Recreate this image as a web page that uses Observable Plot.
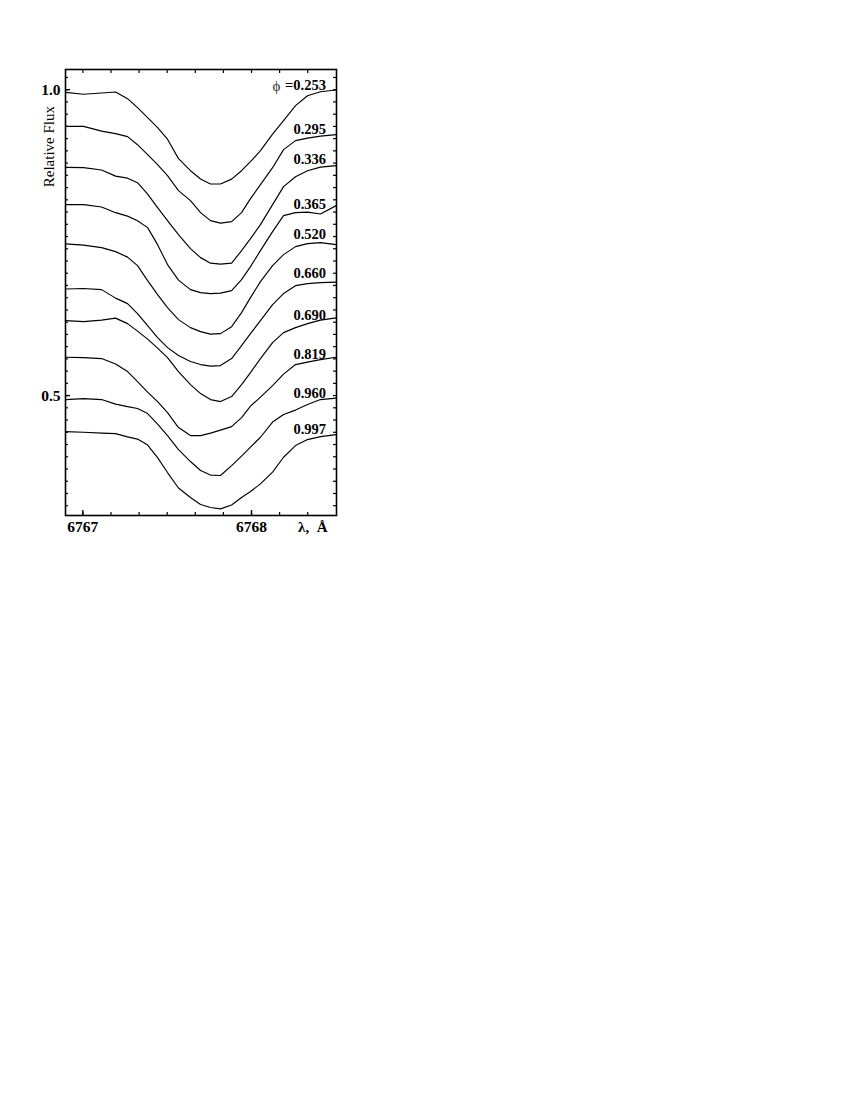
<!DOCTYPE html>
<html><head><meta charset="utf-8">
<script src="https://cdn.jsdelivr.net/npm/d3@7"></script>
<script src="https://cdn.jsdelivr.net/npm/@observablehq/plot@0.6"></script>
<style>body{margin:0;background:#fff}</style>
</head><body><div id="chart"></div>
<script>
// Wavelength grid (Å)
const wavelength = [6766.897, 6767.004, 6767.111, 6767.194, 6767.265, 6767.324, 6767.384, 6767.443, 6767.502, 6767.567, 6767.638, 6767.698, 6767.757, 6767.816, 6767.882, 6767.941, 6767.994, 6768.053, 6768.125, 6768.190, 6768.261, 6768.332, 6768.409, 6768.502];

// Phases (labels)
const phases = ["0.253", "0.295", "0.336", "0.365", "0.520", "0.660", "0.690", "0.819", "0.960", "0.997"];

// Relative flux of each spectrum (shifted)
const flux_0253 = [0.9956, 0.9926, 0.9946, 0.9962, 0.9853, 0.9706, 0.9542, 0.9379, 0.9191, 0.8873, 0.8676, 0.8541, 0.8459, 0.8459, 0.8538, 0.8676, 0.8824, 0.9003, 0.9273, 0.9493, 0.9739, 0.9902, 0.9967, 0.9995];
const flux_0295 = [0.9400, 0.9400, 0.9322, 0.9281, 0.9232, 0.9101, 0.8938, 0.8775, 0.8595, 0.8350, 0.8186, 0.7990, 0.7859, 0.7819, 0.7843, 0.7990, 0.8219, 0.8448, 0.8725, 0.9020, 0.9167, 0.9208, 0.9240, 0.9265];
const flux_0336 = [0.8730, 0.8725, 0.8688, 0.8587, 0.8554, 0.8480, 0.8292, 0.8072, 0.7859, 0.7631, 0.7402, 0.7255, 0.7165, 0.7149, 0.7165, 0.7369, 0.7565, 0.7794, 0.8121, 0.8415, 0.8578, 0.8676, 0.8734, 0.8758];
const flux_0365 = [0.8121, 0.8121, 0.8083, 0.7990, 0.7933, 0.7859, 0.7745, 0.7467, 0.7141, 0.6887, 0.6732, 0.6683, 0.6667, 0.6675, 0.6716, 0.6895, 0.7108, 0.7369, 0.7680, 0.7941, 0.7990, 0.7998, 0.7969, 0.8105];
const flux_0520 = [0.7479, 0.7459, 0.7418, 0.7353, 0.7263, 0.7124, 0.6879, 0.6650, 0.6438, 0.6242, 0.6111, 0.6046, 0.6005, 0.6013, 0.6127, 0.6356, 0.6601, 0.6863, 0.7124, 0.7304, 0.7435, 0.7484, 0.7500, 0.7467];
const flux_0660 = [0.6743, 0.6750, 0.6732, 0.6593, 0.6503, 0.6340, 0.6144, 0.5948, 0.5784, 0.5654, 0.5556, 0.5507, 0.5482, 0.5490, 0.5605, 0.5817, 0.6013, 0.6225, 0.6487, 0.6667, 0.6797, 0.6830, 0.6846, 0.6855];
const flux_0690 = [0.6225, 0.6209, 0.6234, 0.6266, 0.6176, 0.6054, 0.5923, 0.5776, 0.5621, 0.5392, 0.5180, 0.5033, 0.4935, 0.4902, 0.4984, 0.5180, 0.5376, 0.5605, 0.5866, 0.6029, 0.6111, 0.6176, 0.6234, 0.6270];
const flux_0819 = [0.5626, 0.5621, 0.5605, 0.5515, 0.5392, 0.5229, 0.5057, 0.4902, 0.4722, 0.4477, 0.4346, 0.4346, 0.4387, 0.4436, 0.4493, 0.4641, 0.4828, 0.4975, 0.5163, 0.5351, 0.5507, 0.5547, 0.5588, 0.5626];
const flux_0960 = [0.4935, 0.4951, 0.4935, 0.4861, 0.4820, 0.4788, 0.4706, 0.4534, 0.4346, 0.4118, 0.3922, 0.3775, 0.3701, 0.3693, 0.3856, 0.4011, 0.4158, 0.4319, 0.4567, 0.4690, 0.4763, 0.4853, 0.4935, 0.4959];
const flux_0997 = [0.4412, 0.4400, 0.4387, 0.4379, 0.4325, 0.4289, 0.4191, 0.3987, 0.3742, 0.3489, 0.3333, 0.3219, 0.3170, 0.3149, 0.3211, 0.3333, 0.3431, 0.3557, 0.3750, 0.3992, 0.4183, 0.4281, 0.4330, 0.4363];

// Vertical position of each phase label (flux units)
const labelFlux = [1.0065, 0.9358, 0.8856, 0.8121, 0.7631, 0.6998, 0.6307, 0.5681, 0.5044, 0.4456];

// Axis ticks and labels
const xTicks = [6767, 6767.1667, 6767.3333, 6767.5, 6767.6667, 6767.8333, 6768, 6768.1667, 6768.3333];
const xMajor = [6767, 6768];
const xTickLabels = ["6767", "6768"];
const yMajor = [1.0, 0.5];
const yTickLabels = ["1.0", "0.5"];
const yTicks = d3.range(16, 52).map(k => +(k * 0.02).toFixed(2));
const yTitle = "Relative Flux";
const xTitle = "λ,\u00a0 Å";

const series = [flux_0253, flux_0295, flux_0336, flux_0365, flux_0520, flux_0660, flux_0690, flux_0819, flux_0960, flux_0997];
const rows = [];
series.forEach((fl, i) => fl.forEach((f, j) => rows.push({phase: phases[i], lambda: wavelength[j], flux: f})));
const labels = phases.map((p, i) => ({text: i === 0 ? "=" + p : p, y: labelFlux[i]}));

const W = 850, H = 1100, mL = 65, mR = 514, mT = 69, mB = 585;
const plotW = W - mL - mR, plotH = H - mT - mB;
const serif = "'Liberation Serif', 'DejaVu Serif', serif";

const svg = Plot.plot({
  width: W, height: H,
  marginLeft: mL, marginRight: mR, marginTop: mT, marginBottom: mB,
  style: {fontFamily: serif, background: "white", color: "black"},
  x: {domain: [6766.897, 6768.504], axis: null},
  y: {domain: [0.304, 1.033], axis: null},
  marks: [
    Plot.line(rows, {x: "lambda", y: "flux", z: "phase", stroke: "black", strokeWidth: 1.15}),
    // ticks (inward)
    Plot.tickX(xTicks, {x: d => d, insetTop: plotH - 3, stroke: "black", strokeWidth: 1.2}),
    Plot.tickX(xMajor, {x: d => d, insetTop: plotH - 5, stroke: "black", strokeWidth: 1.4}),
    Plot.tickX(xTicks, {x: d => d, insetBottom: plotH - 4, stroke: "black", strokeWidth: 1.2}),
    Plot.tickY(yTicks, {y: d => d, insetRight: plotW - 3, stroke: "black", strokeWidth: 1.2}),
    Plot.tickY(yMajor, {y: d => d, insetRight: plotW - 5, stroke: "black", strokeWidth: 1.4}),
    Plot.tickY(yTicks, {y: d => d, insetLeft: plotW - 3, stroke: "black", strokeWidth: 1.2}),
    Plot.frame({stroke: "black", strokeWidth: 1.6}),
    // tick labels
    Plot.text(yMajor, {y: d => d, frameAnchor: "left", text: (d, i) => yTickLabels[i], textAnchor: "end", dx: -5, fontWeight: "bold", fontSize: 15.5, fill: "black"}),
    Plot.text(xMajor, {x: d => d, frameAnchor: "bottom", text: (d, i) => xTickLabels[i], dy: 16, fontWeight: "bold", fontSize: 15.5, fill: "black"}),
    Plot.text([xTitle], {frameAnchor: "bottom-right", text: d => d, textAnchor: "end", dx: -9, dy: 16, fontWeight: "bold", fontSize: 15, fill: "black"}),
    Plot.text([yTitle], {x: () => 6766.802, y: () => 0.9069, text: d => d, rotate: -90, textAnchor: "middle", lineAnchor: "middle", fontSize: 15, fill: "black"}),
    // phase labels
    Plot.text(labels, {y: "y", text: "text", frameAnchor: "right", textAnchor: "end", dx: -10.5, fontWeight: "bold", fontSize: 14.5, fill: "black"}),
    Plot.text(["ϕ"], {y: () => labelFlux[0], text: d => d, frameAnchor: "right", textAnchor: "middle", dx: -60, fontSize: 15, fill: "#333"})
  ]
});
document.getElementById("chart").appendChild(svg);
</script>
</body></html>
